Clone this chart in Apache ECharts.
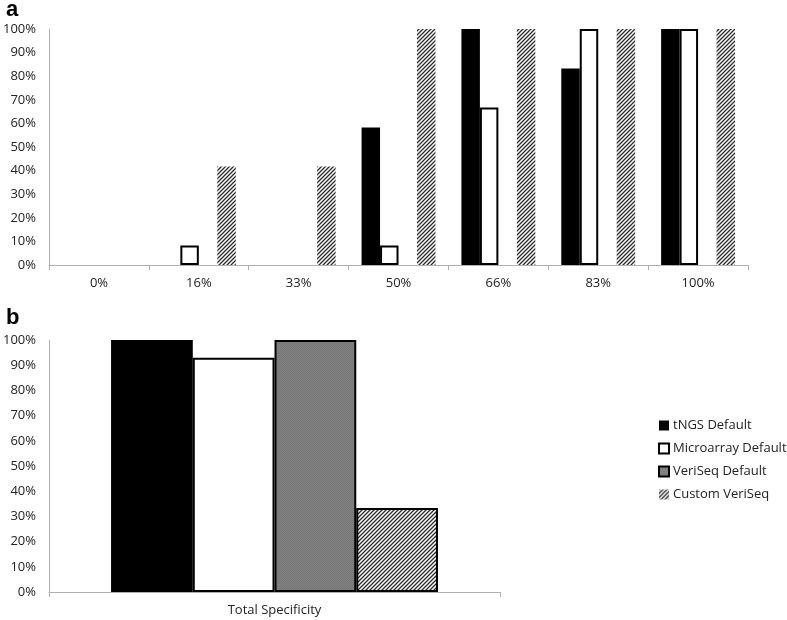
<!DOCTYPE html>
<html>
<head>
<meta charset="utf-8">
<script src="https://cdn.jsdelivr.net/npm/echarts@6/dist/echarts.min.js"></script>
<style>
html,body{margin:0;padding:0;background:#fff;}
#c{width:787px;height:620px;}
</style>
</head>
<body>
<div id="c"></div>
<script>
// ---- data ----
var categoriesA = ['0%', '16%', '33%', '50%', '66%', '83%', '100%'];
var tngsA = [0, 0, 0, 58.3, 100, 83.3, 100];
var microA = [0, 8.3, 0, 8.3, 66.7, 100, 100];
var veriA = [0, 0, 0, 0, 0, 0, 0];
var customA = [0, 41.7, 41.7, 100, 100, 100, 100];

var categoriesB = ['Total Specificity'];
var tngsB = [100];
var microB = [93];
var veriB = [100];
var customB = [33.3];

var seriesNames = ['tNGS Default', 'Microarray Default', 'VeriSeq Default', 'Custom VeriSeq'];

// ---- patterns ----
function hatch() {
  var s = 4;
  var c = document.createElement('canvas');
  c.width = s; c.height = s;
  var g = c.getContext('2d');
  g.fillStyle = '#ffffff';
  g.fillRect(0, 0, s, s);
  g.strokeStyle = '#2a2a2a';
  g.lineWidth = 1.3;
  g.beginPath();
  g.moveTo(-1, s + 1); g.lineTo(s + 1, -1);
  g.moveTo(-1, 1); g.lineTo(1, -1);
  g.moveTo(s - 1, s + 1); g.lineTo(s + 1, s - 1);
  g.stroke();
  return c;
}
function grayTex() {
  var c = document.createElement('canvas');
  c.width = 2; c.height = 2;
  var g = c.getContext('2d');
  g.fillStyle = '#808080';
  g.fillRect(0, 0, 2, 2);
  g.fillStyle = '#787878';
  g.fillRect(0, 0, 1, 1);
  g.fillRect(1, 1, 1, 1);
  return c;
}
var hatchFill = { image: hatch(), repeat: 'repeat' };
var grayFill = { image: grayTex(), repeat: 'repeat' };

function nz(arr) { return arr.map(function (v) { return v === 0 ? '-' : v; }); }

var FONT = 'Open Sans';
var labelStyle = { fontFamily: FONT, fontSize: 13, color: '#222' };

var chart = echarts.init(document.getElementById('c'), null, { renderer: 'canvas' });

function yAxis(gi) {
  return {
    type: 'value', gridIndex: gi, min: 0, max: 100, interval: 10,
    axisLine: { show: true, lineStyle: { color: '#b0b0b0', width: 1 } },
    axisTick: { show: false },
    splitLine: { show: false },
    axisLabel: Object.assign({ margin: 13, formatter: function (v) { return v + '%'; } }, labelStyle)
  };
}
function xAxis(gi, cats) {
  return {
    type: 'category', gridIndex: gi, data: cats,
    axisLine: { show: true, lineStyle: { color: '#b0b0b0', width: 1 } },
    axisTick: { show: true, length: 5, lineStyle: { color: '#b0b0b0' } },
    axisLabel: Object.assign({ margin: 12 }, labelStyle)
  };
}

var option = {
  animation: false,
  backgroundColor: '#fff',
  title: [
    { text: 'a', left: 1, top: -6, textStyle: { fontFamily: 'Liberation Sans', fontWeight: 'bold', fontSize: 22, color: '#000' } },
    { text: 'b', left: 1, top: 302, textStyle: { fontFamily: 'Liberation Sans', fontWeight: 'bold', fontSize: 22, color: '#000' } }
  ],
  grid: [
    { left: 49, right: 39, top: 29, bottom: 355 },
    { left: 48, right: 287, top: 340, bottom: 28 }
  ],
  xAxis: [xAxis(0, categoriesA), xAxis(1, categoriesB)],
  yAxis: [yAxis(0), yAxis(1)],
  legend: {
    orient: 'vertical', left: 653, top: 414, itemWidth: 10, itemHeight: 10, itemGap: 10, icon: 'rect',
    textStyle: { fontFamily: FONT, fontSize: 13, color: '#222', padding: [0, 0, 0, -1] },
    data: [
      { name: seriesNames[0], itemStyle: { color: '#000', borderColor: '#000', borderWidth: 0 } },
      { name: seriesNames[1], itemStyle: { color: '#fff', borderColor: '#000', borderWidth: 2 } },
      { name: seriesNames[2], itemStyle: { color: '#808080', borderColor: '#000', borderWidth: 2 } },
      { name: seriesNames[3], itemStyle: { color: hatchFill, borderWidth: 0 } }
    ]
  },
  series: [
    { name: seriesNames[0], type: 'bar', xAxisIndex: 0, yAxisIndex: 0, data: nz(tngsA), barGap: '0%', barCategoryGap: '26%',
      itemStyle: { color: '#000', borderWidth: 0 } },
    { name: seriesNames[1], type: 'bar', xAxisIndex: 0, yAxisIndex: 0, data: nz(microA),
      itemStyle: { color: '#fff', borderColor: '#000', borderWidth: 2 } },
    { name: seriesNames[2], type: 'bar', xAxisIndex: 0, yAxisIndex: 0, data: nz(veriA),
      itemStyle: { color: grayFill, borderColor: '#000', borderWidth: 2 } },
    { name: seriesNames[3], type: 'bar', xAxisIndex: 0, yAxisIndex: 0, data: nz(customA),
      itemStyle: { color: hatchFill, borderWidth: 0 } },

    { name: seriesNames[0], type: 'bar', xAxisIndex: 1, yAxisIndex: 1, data: tngsB, barGap: '0%', barCategoryGap: '27.5%',
      itemStyle: { color: '#000', borderColor: '#000', borderWidth: 2 } },
    { name: seriesNames[1], type: 'bar', xAxisIndex: 1, yAxisIndex: 1, data: microB,
      itemStyle: { color: '#fff', borderColor: '#000', borderWidth: 2 } },
    { name: seriesNames[2], type: 'bar', xAxisIndex: 1, yAxisIndex: 1, data: veriB,
      itemStyle: { color: grayFill, borderColor: '#000', borderWidth: 2 } },
    { name: seriesNames[3], type: 'bar', xAxisIndex: 1, yAxisIndex: 1, data: customB,
      itemStyle: { color: hatchFill, borderColor: '#000', borderWidth: 2 } }
  ]
};
chart.setOption(option);
</script>
</body>
</html>
